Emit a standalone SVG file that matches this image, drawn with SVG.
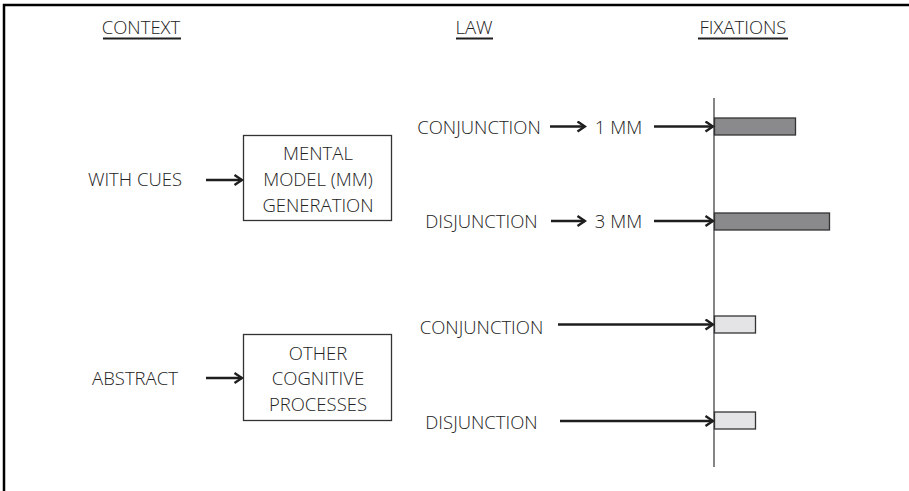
<svg xmlns="http://www.w3.org/2000/svg" width="909" height="491" viewBox="0 0 909 491">
<style>
text{font-family:"Open Sans","Liberation Sans",sans-serif;font-weight:300;font-size:18.5px;fill:#222}
.c{text-anchor:middle}
.box{fill:#fff;stroke:#333;stroke-width:1.3}
.arr{stroke:#1e1e1e;stroke-width:2.4;fill:none;marker-end:url(#ah)}
.ul{stroke:#1e1e1e;stroke-width:1.8}
.dark{fill:#8a8a8c;stroke:#333;stroke-width:1.3}
.light{fill:#e4e4e6;stroke:#333;stroke-width:1.3}
</style>
<defs>
<marker id="ah" markerWidth="11" markerHeight="12" refX="9" refY="6" orient="auto" markerUnits="userSpaceOnUse">
<path d="M1.5,1 L9,6 L1.5,11" fill="none" stroke="#1e1e1e" stroke-width="2.4"/>
</marker>
</defs>
<rect width="909" height="491" fill="#fff"/>
<path d="M4,491 V5 H909" fill="none" stroke="#000" stroke-width="2.5"/>
<g id="headers">
<text x="141" y="34" class="c">CONTEXT</text>
<line x1="103" y1="38.5" x2="181" y2="38.5" class="ul"/>
<text x="474" y="34" class="c">LAW</text>
<line x1="456" y1="38.5" x2="493" y2="38.5" class="ul"/>
<text x="743" y="34" class="c">FIXATIONS</text>
<line x1="698" y1="38.5" x2="788" y2="38.5" class="ul"/>
</g>
<g id="with-cues"><text x="135" y="186" class="c">WITH CUES</text></g>
<g id="abstract"><text x="135" y="385" class="c">ABSTRACT</text></g>
<g id="mm-generation">
<rect x="243.5" y="135.5" width="148" height="85" class="box"/>
<text x="318" y="160" class="c">MENTAL</text>
<text x="318" y="186" class="c">MODEL (MM)</text>
<text x="318" y="211.5" class="c">GENERATION</text>
</g>
<g id="other-processes">
<rect x="243.5" y="334.5" width="148" height="86" class="box"/>
<text x="318" y="360" class="c">OTHER</text>
<text x="318" y="385" class="c">COGNITIVE</text>
<text x="318" y="410.5" class="c">PROCESSES</text>
</g>
<g id="conj1"><text x="479" y="134" class="c">CONJUNCTION</text></g>
<g id="mm1"><text x="618.5" y="134" class="c">1 MM</text></g>
<g id="disj1"><text x="481.5" y="227.5" class="c">DISJUNCTION</text></g>
<g id="mm3"><text x="618.5" y="227.5" class="c">3 MM</text></g>
<g id="conj2"><text x="481.5" y="333.5" class="c">CONJUNCTION</text></g>
<g id="disj2"><text x="481.5" y="429" class="c">DISJUNCTION</text></g>
<g id="axis"><line x1="714" y1="98" x2="714" y2="467" stroke="#444" stroke-width="1.3"/></g>
<g id="bars">
<rect x="714.5" y="118" width="81" height="17" class="dark"/>
<rect x="714.5" y="213" width="115" height="17" class="dark"/>
<rect x="714.5" y="316" width="41" height="17" class="light"/>
<rect x="714.5" y="412" width="41" height="17" class="light"/>
</g>
<g id="connectors">
<line x1="206" y1="180" x2="242" y2="180" class="arr"/>
<line x1="206" y1="378" x2="242" y2="378" class="arr"/>
<line x1="550" y1="126.5" x2="585" y2="126.5" class="arr"/>
<line x1="654" y1="126.5" x2="713" y2="126.5" class="arr"/>
<line x1="551" y1="221" x2="585" y2="221" class="arr"/>
<line x1="654" y1="221" x2="713" y2="221" class="arr"/>
<line x1="558" y1="324.5" x2="713" y2="324.5" class="arr"/>
<line x1="560" y1="421" x2="713" y2="421" class="arr"/>
</g>
</svg>
